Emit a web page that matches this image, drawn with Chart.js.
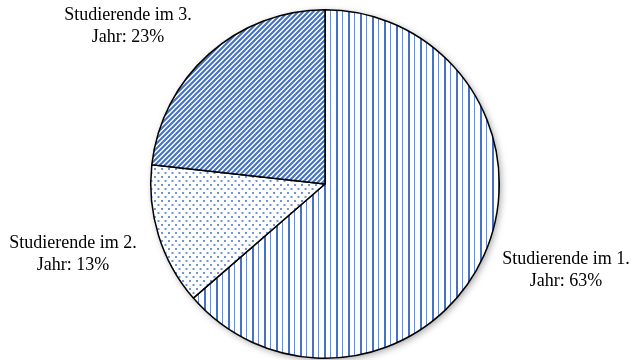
<!DOCTYPE html>
<html>
<head>
<meta charset="utf-8">
<script src="https://cdn.jsdelivr.net/npm/chart.js@4"></script>
<style>
  html, body { margin: 0; padding: 0; background: #fff; }
  #wrap { width: 633px; height: 360px; position: relative; }
</style>
</head>
<body>
<div id="wrap"><canvas id="pieChart"></canvas></div>
<script>
const categories = ["Studierende im 1. Jahr", "Studierende im 2. Jahr", "Studierende im 3. Jahr"];
const shares = [63, 13, 23];
const shareLabels = ["63%", "13%", "23%"];

const BLUE = "#4472C4";

function makeTile(w, h, draw) {
  const c = document.createElement("canvas");
  c.width = w; c.height = h;
  const g = c.getContext("2d");
  g.fillStyle = "#fff";
  g.fillRect(0, 0, w, h);
  g.fillStyle = BLUE;
  g.strokeStyle = BLUE;
  draw(g);
  return document.createElement("canvas").getContext("2d").createPattern(c, "repeat");
}

// vertical stripes
const vertPattern = makeTile(12, 4, g => {
  g.fillRect(0, 0, 2, 4);
  g.globalAlpha = 0.8;
  g.fillRect(6, 0, 1, 4);
});

// small staggered dots
const dotPattern = makeTile(7, 8, g => {
  g.globalAlpha = 0.75;
  g.fillRect(0, 0, 2, 2);
  g.fillRect(3.5, 4, 2, 2);
});

// wide upward diagonal
const diagPattern = makeTile(5, 5, g => {
  g.lineWidth = 2.1;
  g.beginPath();
  g.moveTo(-3, 8); g.lineTo(8, -3);
  g.moveTo(-3, 3); g.lineTo(3, -3);
  g.moveTo(2, 8); g.lineTo(8, 2);
  g.stroke();
});

// label centre relative to pie centre
const labelOffsets = [[241, 86], [-252, 70], [-197, -158]];

const shadowPlugin = {
  id: "pieShadow",
  beforeDatasetsDraw(chart) {
    const arc = chart.getDatasetMeta(0).data[0];
    const ctx = chart.ctx;
    ctx.save();
    ctx.shadowColor = "rgba(0,0,0,0.35)";
    ctx.shadowBlur = 7;
    ctx.shadowOffsetX = 2;
    ctx.shadowOffsetY = 2;
    ctx.fillStyle = "#fff";
    ctx.beginPath();
    ctx.arc(arc.x, arc.y, arc.outerRadius, 0, Math.PI * 2);
    ctx.fill();
    ctx.restore();
  }
};

const labelPlugin = {
  id: "pieLabels",
  afterDatasetsDraw(chart) {
    const meta = chart.getDatasetMeta(0);
    const ctx = chart.ctx;
    ctx.save();
    ctx.font = "18px 'Liberation Serif', 'Times New Roman', serif";
    ctx.fillStyle = "#000";
    ctx.textAlign = "center";
    ctx.textBaseline = "middle";
    meta.data.forEach((arc, i) => {
      const x = arc.x + labelOffsets[i][0];
      const y = arc.y + labelOffsets[i][1];
      const name = categories[i];
      const cut = name.lastIndexOf(" ");
      ctx.fillText(name.slice(0, cut), x, y - 11);
      ctx.fillText(name.slice(cut + 1) + ": " + shareLabels[i], x, y + 11);
    });
    ctx.restore();
  }
};

new Chart(document.getElementById("pieChart").getContext("2d"), {
  type: "pie",
  data: {
    labels: categories,
    datasets: [{
      data: shares,
      backgroundColor: [vertPattern, dotPattern, diagPattern],
      borderColor: "#000",
      borderWidth: 1.5
    }]
  },
  options: {
    responsive: true,
    maintainAspectRatio: false,
    animation: false,
    layout: { padding: { left: 150, right: 133, top: 9, bottom: 1 } },
    plugins: {
      legend: { display: false },
      tooltip: { enabled: false }
    }
  },
  plugins: [shadowPlugin, labelPlugin]
});
</script>
</body>
</html>
